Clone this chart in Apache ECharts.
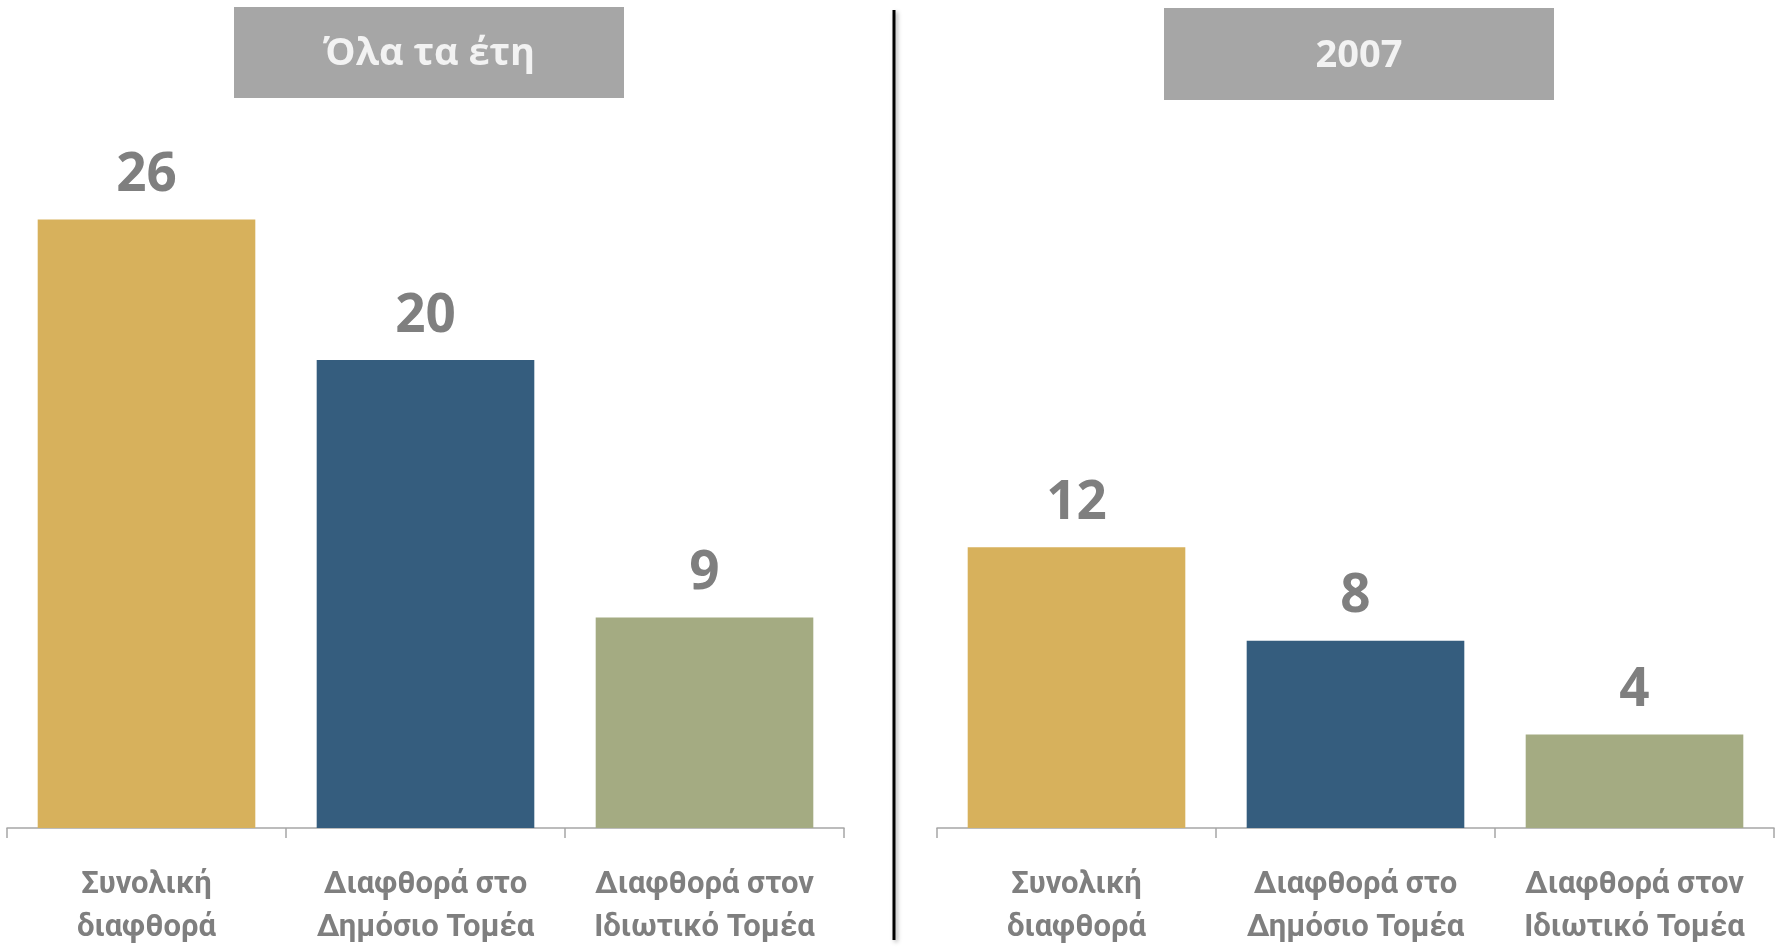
<!DOCTYPE html>
<html><head><meta charset="utf-8">
<script src="https://cdn.jsdelivr.net/npm/echarts@6/dist/echarts.min.js"></script>
<style>html,body{margin:0;padding:0;background:#fff}#c{width:1787px;height:950px}</style>
</head><body><div id="c"></div>
<script>
const categories = ['Συνολική\nδιαφθορά', 'Διαφθορά στο\nΔημόσιο Τομέα', 'Διαφθορά στον\nΙδιωτικό Τομέα'];
const panelTitles = ['Όλα τα έτη', '2007'];
const valuesAllYears = [26, 20, 9];
const values2007 = [12, 8, 4];
const barColors = ['#D7B15C', '#355D7E', '#A4AB82'];

const chart = echarts.init(document.getElementById('c'));
const labelFont = 'Roboto, "Open Sans", sans-serif';
const gray = '#7f7f7f';

function xAxis(idx) {
  return {
    type: 'category', gridIndex: idx, data: categories,
    axisLine: {show: true, lineStyle: {color: '#a6a6a6', width: 1.5}},
    axisTick: {show: true, alignWithLabel: false, interval: 0, length: 10, lineStyle: {color: '#a6a6a6', width: 1.5}},
    axisLabel: {color: gray, fontFamily: labelFont, fontWeight: 'bold', fontSize: 31, lineHeight: 43, margin: 36, interval: 0}
  };
}
function yAxis(idx) {
  return {type: 'value', gridIndex: idx, min: 0, max: 30, show: false, splitLine: {show: false}};
}
function series(idx, vals) {
  return {
    type: 'bar', xAxisIndex: idx, yAxisIndex: idx, barCategoryGap: '22%',
    data: vals.map((v, i) => ({value: v, itemStyle: {color: barColors[i]}})),
    label: {show: true, position: 'top', distance: 17, color: gray, fontFamily: '"Open Sans", sans-serif', fontWeight: 'bold', fontSize: 53},
    animation: false
  };
}
function titleBox(x, y, w, h, text) {
  return {
    type: 'group', left: x, top: y,
    children: [
      {type: 'rect', shape: {x: 0, y: 0, width: w, height: h}, style: {fill: '#a6a6a6'}},
      {type: 'text', x: w / 2, y: h / 2 + 2, style: {text: text, fill: '#f2f2f2', font: 'bold 38px "Open Sans", sans-serif', textAlign: 'center', textVerticalAlign: 'middle'}}
    ]
  };
}

chart.setOption({
  animation: false,
  grid: [
    {left: 7, right: 943, top: 126, bottom: 122},
    {left: 937, right: 13, top: 126, bottom: 122}
  ],
  xAxis: [xAxis(0), xAxis(1)],
  yAxis: [yAxis(0), yAxis(1)],
  series: [series(0, valuesAllYears), series(1, values2007)],
  graphic: [
    titleBox(234, 7, 390, 91, panelTitles[0]),
    titleBox(1164, 8, 390, 92, panelTitles[1]),
    {type: 'line', shape: {x1: 894, y1: 10, x2: 894, y2: 940}, style: {stroke: '#000', lineWidth: 3, shadowBlur: 4, shadowColor: 'rgba(0,0,0,0.35)', shadowOffsetX: 2, shadowOffsetY: 2}}
  ]
});
</script></body></html>
